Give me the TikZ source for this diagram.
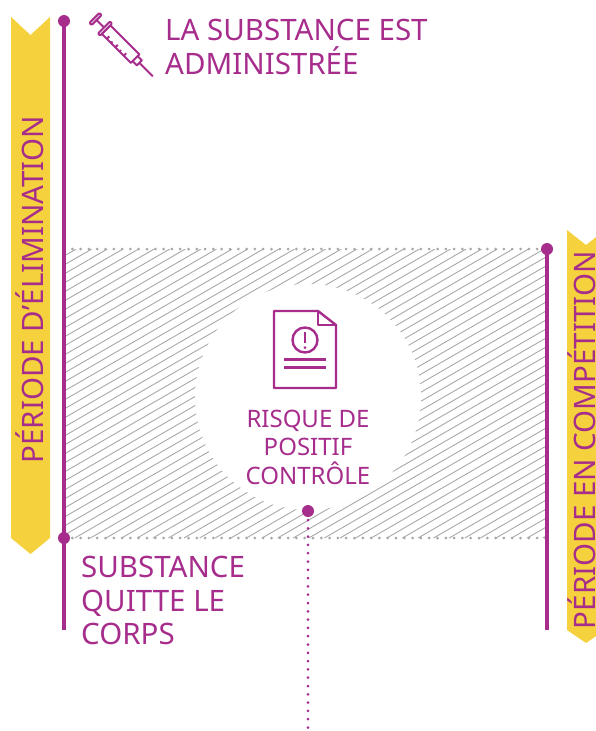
\documentclass[tikz,border=0pt]{standalone}
\usepackage{fontspec}
\setmainfont{Noto Sans}
\usepackage{tikz}
\definecolor{plum}{HTML}{A62D8C}
\definecolor{banana}{HTML}{F5D13D}
\definecolor{hatchgray}{HTML}{A8A8A8}

\begin{document}
\begin{tikzpicture}[x=1pt,y=-1pt,
			timeline/.style={plum, line width=3.4pt},
			pin/.style={circle, fill=plum, inner sep=0pt, minimum size=12pt},
			stagetext/.style={text=plum, font=\fontsize{29.5}{33.5}\selectfont, align=left, inner sep=0pt, anchor=north west},
			banner/.style={text=plum, font=\fontsize{29.5}{33.5}\selectfont, rotate=90, anchor=base, inner sep=0pt},
			icon/.style={plum, line width=2.4pt, line join=round},
			dots/.style={line width=3pt, line cap=round, dash pattern=on 0pt off 8.3pt}]
			\useasboundingbox (0,0) rectangle (596,731);
			%%%%%%%%%%%%%%%%%%%%%%%%%%%%%%%%
			\begin{scope}
				\clip (64,249) rectangle (547,538);
				\foreach \x in {-440,-424.4,...,560}
					\draw[hatchgray, line width=0.9pt] (\x,538) -- ++(500.6,-289);
			\end{scope}
			\draw[hatchgray, dots] (64,249) -- (547,249) (64,538) -- (547,538);
			\fill[white] (308,397) circle (113pt);
			%%%%%%%%%%%%%%%%%%%%%%%%%%%%%%%%
			\fill[banana] (11,17) -- (30.5,35) -- (50,17) -- (50,538) -- (30.5,554) -- (11,538) -- cycle;
			\node[banner] (elim) at (43.5,289.5) {PÉRIODE D’ÉLIMINATION};
			\fill[banana] (567,230) -- (586,245) -- (605,230) -- (605,630) -- (586,643) -- (567,630) -- cycle;
			\node[banner] (compet) at (595,440) {PÉRIODE EN COMPÉTITION};
			%%%%%%%%%%%%%%%%%%%%%%%%%%%%%%%%
			\node[pin] (given) at (64,21) {};
			\node[pin] (gone) at (64,538) {};
			\coordinate (leftfoot) at (64,630);
			\draw[timeline] (given.center) -- (leftfoot);
			\node[pin] (start) at (547,249) {};
			\coordinate (rightfoot) at (547,630);
			\draw[timeline] (start.center) -- (rightfoot);
			\node[pin] (risk) at (308,511) {};
			\coordinate (pagefoot) at (308,735);
			\draw[plum, dots] (risk.center) ++(0,9) -- (pagefoot);
			%%%%%%%%%%%%%%%%%%%%%%%%%%%%%%%%
			\node[stagetext] (given text) at (165,19) {LA SUBSTANCE EST\\ADMINISTRÉE};
			\node[stagetext] (gone text) at (81,556) {SUBSTANCE\\QUITTE LE\\CORPS};
			\node[stagetext, font=\fontsize{24}{28.5}\selectfont, align=center, anchor=north] (risk text) at (308,409.5) {RISQUE DE\\POSITIF\\CONTRÔLE};
			%%%%%%%%%%%%%%%%%%%%%%%%%%%%%%%%
			% document icon
			\draw[icon] (274,311) -- (318,311) -- (336,325) -- (336,388) -- (274,388) -- cycle;
			\draw[icon] (318,311) -- (318,325) -- (336,325);
			\draw[icon] (305,340) circle (12.5pt);
			\draw[icon] (305,332) -- (305,343);
			\fill[plum] (305,347.5) circle (1.5pt);
			\draw[plum, line width=3.2pt] (284,359.5) -- (326,359.5) (284,367.5) -- (326,367.5);
			%%%%%%%%%%%%%%%%%%%%%%%%%%%%%%%%
			% syringe
			\begin{scope}[shift={(95.5,19)}, rotate=-45, icon, line width=2pt]
				\draw[rounded corners=1pt] (-1.5,-7) rectangle (1.5,7);
				\draw (1.5,0) -- (12,0);
				\draw[rounded corners=1pt] (12,-8.5) rectangle (15,8.5);
				\draw (15,-6) rectangle (56,6);
				\draw (56,-3.5) -- (62,-3.5) -- (62,3.5) -- (56,3.5);
				\draw (62,0) -- (81,0);
				\foreach \u/\l in {22/3.5,28/2,34/3.5,40/2,46/3.5}
					\draw (\u,6) -- (\u,6-\l);
			\end{scope}
		\end{tikzpicture}
\end{document}
